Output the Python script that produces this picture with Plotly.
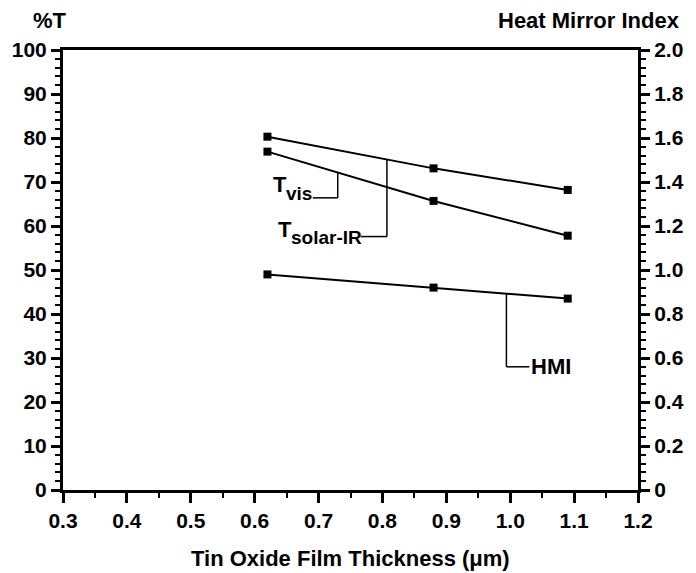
import plotly.graph_objects as go

# ---- data ----
thickness_um = [0.62, 0.88, 1.09]
t_solar_ir = [80.3, 73.1, 68.2]     # %T
t_vis = [76.9, 65.7, 57.8]          # %T
hmi = [0.98, 0.92, 0.87]            # Heat Mirror Index

x_ticks = [0.3, 0.4, 0.5, 0.6, 0.7, 0.8, 0.9, 1.0, 1.1, 1.2]
x_ticktext = ["0.3", "0.4", "0.5", "0.6", "0.7", "0.8", "0.9", "1.0", "1.1", "1.2"]
y_ticks = [0, 10, 20, 30, 40, 50, 60, 70, 80, 90, 100]
y2_ticks = [0, 0.2, 0.4, 0.6, 0.8, 1.0, 1.2, 1.4, 1.6, 1.8, 2.0]
y2_ticktext = ["0", "0.2", "0.4", "0.6", "0.8", "1.0", "1.2", "1.4", "1.6", "1.8", "2.0"]

FONT = "Liberation Sans, Arial, sans-serif"
BLACK = "#000000"

fig = go.Figure()
line_style = dict(color=BLACK, width=2)
marker_style = dict(symbol="square", size=8, color=BLACK)

fig.add_trace(go.Scatter(x=thickness_um, y=t_solar_ir, mode="lines+markers",
                         line=line_style, marker=marker_style, name="Tsolar-IR"))
fig.add_trace(go.Scatter(x=thickness_um, y=t_vis, mode="lines+markers",
                         line=line_style, marker=marker_style, name="Tvis"))
fig.add_trace(go.Scatter(x=thickness_um, y=hmi, mode="lines+markers", yaxis="y2",
                         line=line_style, marker=marker_style, name="HMI"))

tickfont = dict(family=FONT, size=21, color=BLACK, weight="bold")

fig.update_layout(
    width=696, height=573,
    margin=dict(l=63, r=47, t=50, b=83),
    paper_bgcolor="white", plot_bgcolor="white",
    showlegend=False,
    font=dict(family=FONT, color=BLACK),
    xaxis=dict(range=[0.3, 1.2], tickvals=x_ticks, ticktext=x_ticktext,
               showgrid=False, zeroline=False, showline=True, linecolor=BLACK,
               linewidth=3, mirror=True, ticks="outside", ticklen=10, tickwidth=3,
               tickcolor=BLACK, tickfont=tickfont,
               minor=dict(dtick=0.05, ticks="outside", ticklen=5, tickwidth=2,
                          tickcolor=BLACK, showgrid=False)),
    yaxis=dict(range=[0, 100], tickvals=y_ticks, showgrid=False, zeroline=False,
               showline=True, linecolor=BLACK, linewidth=3, ticks="outside",
               ticklen=9, tickwidth=3, tickcolor=BLACK, tickfont=tickfont,
               minor=dict(dtick=2, ticks="outside", ticklen=5, tickwidth=2,
                          tickcolor=BLACK, showgrid=False)),
    yaxis2=dict(range=[0, 2], tickvals=y2_ticks, ticktext=y2_ticktext,
                overlaying="y", side="right", showgrid=False, zeroline=False,
                showline=True, linecolor=BLACK, linewidth=3, ticks="outside",
                ticklen=9, tickwidth=3, tickcolor=BLACK, tickfont=tickfont,
                minor=dict(dtick=0.04, ticks="outside", ticklen=5, tickwidth=2,
                           tickcolor=BLACK, showgrid=False)),
)

label_font = dict(family=FONT, size=22, color=BLACK, weight="bold")
sub_font = dict(family=FONT, size=19, color=BLACK, weight="bold")
title_font = dict(family=FONT, size=22, color=BLACK, weight="bold")

# axis titles
fig.add_annotation(text="%T", xref="paper", yref="paper", x=-0.022, y=1.066,
                   xanchor="center", yanchor="middle", showarrow=False, font=title_font)
fig.add_annotation(text="Heat Mirror Index", xref="paper", yref="paper", x=1.077, y=1.066,
                   xanchor="right", yanchor="middle", showarrow=False, font=title_font)
fig.add_annotation(text="Tin Oxide Film Thickness (\u03bcm)", xref="paper", yref="paper",
                   x=0.5, y=-0.155, xanchor="center", yanchor="middle",
                   showarrow=False, font=title_font)

# series labels with leader lines
conn = dict(color=BLACK, width=1.5)
# T_vis
fig.add_shape(type="line", x0=0.730, x1=0.730, y0=72.3, y1=66.4, line=conn)
fig.add_shape(type="line", x0=0.691, x1=0.730, y0=66.4, y1=66.4, line=conn)
fig.add_annotation(text="T", x=0.6533, y=69.4, xanchor="right", yanchor="middle",
                   showarrow=False, font=label_font)
fig.add_annotation(text="vis", x=0.6533, y=67.5, xanchor="left", yanchor="middle",
                   xshift=-5, showarrow=False, font=sub_font)
# T_solar-IR
fig.add_shape(type="line", x0=0.807, x1=0.807, y0=75.1, y1=57.6, line=conn)
fig.add_shape(type="line", x0=0.766, x1=0.807, y0=57.6, y1=57.6, line=conn)
fig.add_annotation(text="T", x=0.661, y=59.2, xanchor="right", yanchor="middle",
                   showarrow=False, font=label_font)
fig.add_annotation(text="solar-IR", x=0.661, y=57.4, xanchor="left", yanchor="middle",
                   xshift=-5, showarrow=False, font=sub_font)
# HMI
fig.add_shape(type="line", x0=0.994, x1=0.994, y0=0.895, y1=0.56, yref="y2", line=conn)
fig.add_shape(type="line", x0=0.994, x1=1.03, y0=0.56, y1=0.56, yref="y2", line=conn)
fig.add_annotation(text="HMI", x=1.03, y=0.56, yref="y2", xanchor="left",
                   yanchor="middle", showarrow=False, font=label_font)

fig.write_html("out.html")
